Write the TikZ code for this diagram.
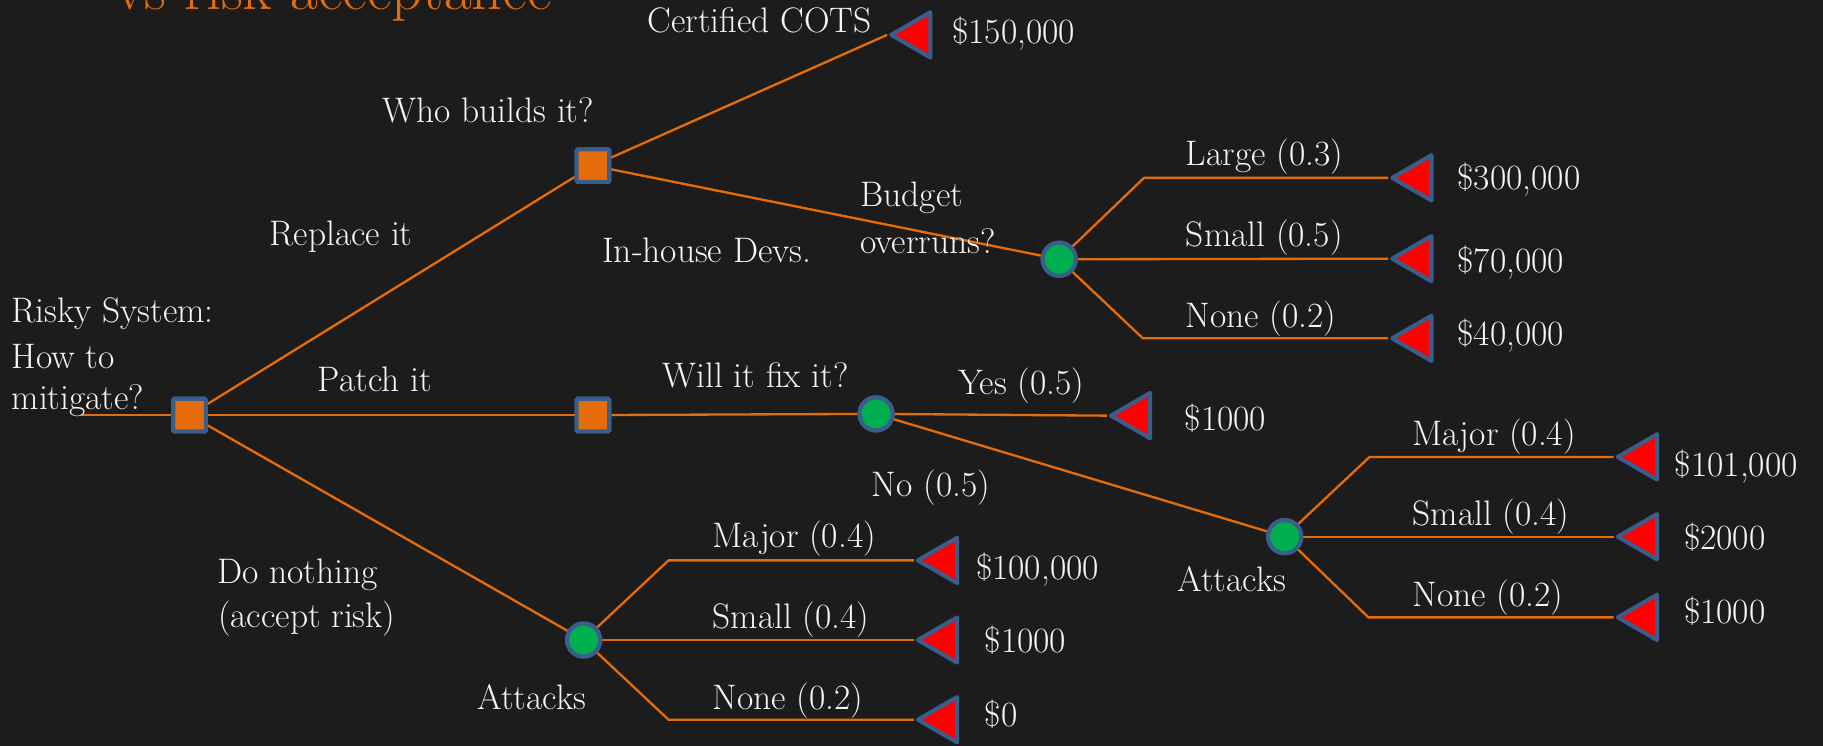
\documentclass[tikz,border=0pt]{standalone}
\usetikzlibrary{shapes.geometric}
\definecolor{bg}{RGB}{28,28,28}
\definecolor{orng}{RGB}{228,108,10}
\definecolor{bord}{RGB}{58,94,140}
\definecolor{grn}{RGB}{0,176,80}
\definecolor{txt}{RGB}{245,245,245}
\begin{document}
\begin{tikzpicture}[x=1pt,y=-1pt,
  lbl/.style={anchor=base west, inner sep=0pt, outer sep=0pt, text=txt, font=\fontsize{30.5}{36}\selectfont},
  dec/.style={rectangle, draw=bord, fill=orng, line width=3.5pt, minimum size=28pt, inner sep=0pt, rounded corners=1pt},
  chn/.style={circle, draw=bord, fill=grn, line width=3.5pt, minimum size=28.5pt, inner sep=0pt},
  term/.style={regular polygon, regular polygon sides=3, shape border rotate=90, draw=bord, fill=red, line width=3.5pt, line join=round, minimum size=45pt, inner sep=0pt},
  br/.style={draw=orng, line width=2pt},
]
\useasboundingbox (0,0) rectangle (1568,641.6);
\clip (0,0) rectangle (1568,641.6);
\fill[bg] (0,0) rectangle (1568,641.6);

\node[anchor=base west, inner sep=0pt, text=orng, font=\fontsize{52}{58}\selectfont] (title) at (99,8) {vs risk acceptance};

% elbow and start coordinates
\coordinate (start) at (70,357);
\coordinate (eBL) at (984,153);
\coordinate (eBN) at (983,291);
\coordinate (eRM) at (1178,393);
\coordinate (eRN) at (1177,531);
\coordinate (eDM) at (575,482);
\coordinate (eDN) at (575,619);

% decision and chance nodes
\node[dec] (root) at (163,357) {};
\node[dec] (who) at (510,142.5) {};
\node[dec] (patch) at (510,357) {};
\node[chn] (bud) at (911,223) {};
\node[chn] (fix) at (753.5,356) {};
\node[chn] (attR) at (1105,461.6) {};
\node[chn] (attD) at (502,550.5) {};

% terminal triangles
\node[term] (tC) at (789,30) {};
\node[term] (tL) at (1220,153) {};
\node[term] (tS) at (1220,222.5) {};
\node[term] (tN) at (1220,291) {};
\node[term] (tY) at (978,357.5) {};
\node[term] (tRM) at (1414,393) {};
\node[term] (tRS) at (1414,461.6) {};
\node[term] (tRN) at (1414,531) {};
\node[term] (tDM) at (812,482) {};
\node[term] (tDS) at (812,550.5) {};
\node[term] (tDN) at (812,619) {};

% branches
\draw[br] (start) -- (root);
\draw[br] (root) -- (who);
\draw[br] (root) -- (patch);
\draw[br] (root) -- (attD);
\draw[br] (who) -- (tC.west);
\draw[br] (who) -- (bud);
\draw[br] (bud) -- (eBL) -- (tL.west);
\draw[br] (bud) -- (tS.west);
\draw[br] (bud) -- (eBN) -- (tN.west);
\draw[br] (patch) -- (fix);
\draw[br] (fix) -- (tY.west);
\draw[br] (fix) -- (attR);
\draw[br] (attR) -- (eRM) -- (tRM.west);
\draw[br] (attR) -- (tRS.west);
\draw[br] (attR) -- (eRN) -- (tRN.west);
\draw[br] (attD) -- (eDM) -- (tDM.west);
\draw[br] (attD) -- (tDS.west);
\draw[br] (attD) -- (eDN) -- (tDN.west);

% redraw nodes on top of lines
\node[dec] at (root) {};
\node[dec] at (who) {};
\node[dec] at (patch) {};
\node[chn] at (bud) {};
\node[chn] at (fix) {};
\node[chn] at (attR) {};
\node[chn] at (attD) {};

% labels
\node[lbl] (lC) at (557,28) {Certified COTS};
\node[lbl] (vC) at (819,37) {\$150,000};
\node[lbl] (lWho) at (329,105) {Who builds it?};
\node[lbl] (lRep) at (232,211) {Replace it};
\node[lbl] (lIn) at (518,226) {In-house Devs.};
\node[lbl] (lBud1) at (740,178) {Budget};
\node[lbl] (lBud2) at (740,218) {overruns?};
\node[lbl] (lL) at (1020,142) {Large (0.3)};
\node[lbl] (vL) at (1253.6,163) {\$300,000};
\node[lbl] (lS) at (1020,212) {Small (0.5)};
\node[lbl] (vS) at (1253.6,234) {\$70,000};
\node[lbl] (lN) at (1020,282) {None (0.2)};
\node[lbl] (vN) at (1253.6,297) {\$40,000};
\node[lbl] (lR1) at (10,277) {Risky System:};
\node[lbl] (lR2) at (10,317) {How to};
\node[lbl] (lR3) at (10,352) {mitigate?};
\node[lbl] (lPat) at (273.5,337) {Patch it};
\node[lbl] (lFix) at (570,333) {Will it fix it?};
\node[lbl] (lYes) at (824,339) {Yes (0.5)};
\node[lbl] (vY) at (1019,370) {\$1000};
\node[lbl] (lNo) at (750,427) {No (0.5)};
\node[lbl] (lRM) at (1215,383) {Major (0.4)};
\node[lbl] (vRM) at (1440.6,410) {\$101,000};
\node[lbl] (lRS) at (1215,451.6) {Small (0.4)};
\node[lbl] (vRS) at (1448.5,473) {\$2000};
\node[lbl] (lRN) at (1215,521.8) {None (0.2)};
\node[lbl] (vRN) at (1448.5,536) {\$1000};
\node[lbl] (lAR) at (1013,509) {Attacks};
\node[lbl] (lDo1) at (187,501.6) {Do nothing};
\node[lbl] (lDo2) at (187.6,540) {(accept risk)};
\node[lbl] (lAD) at (410.8,610) {Attacks};
\node[lbl] (lDM) at (613,471) {Major (0.4)};
\node[lbl] (vDM) at (839.5,498.4) {\$100,000};
\node[lbl] (lDS) at (613,541) {Small (0.4)};
\node[lbl] (vDS) at (847,561.4) {\$1000};
\node[lbl] (lDN) at (613,610) {None (0.2)};
\node[lbl] (vDN) at (847,625) {\$0};
\end{tikzpicture}
\end{document}
